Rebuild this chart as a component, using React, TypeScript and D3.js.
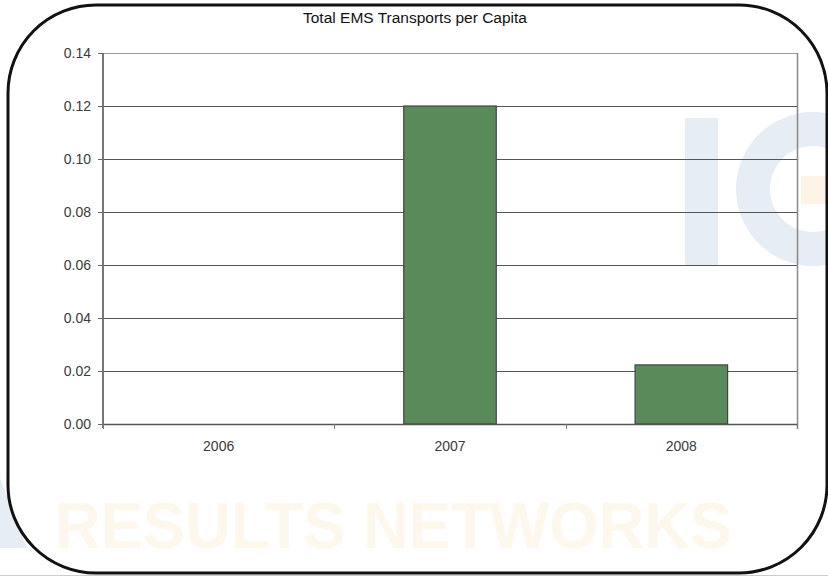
import React, { useEffect, useRef } from 'react';
import * as d3 from 'd3';

const years = ['2006', '2007', '2008'];
const transportsPerCapita = [0, 0.12, 0.0223];
const yTicks = [0, 0.02, 0.04, 0.06, 0.08, 0.1, 0.12, 0.14];
const chartTitle = 'Total EMS Transports per Capita';
const watermarkText = 'RESULTS NETWORKS';

const width = 828;
const height = 576;
const margin = { top: 53, right: 31, bottom: 152, left: 103 };

export default function App() {
	const ref = useRef<SVGSVGElement | null>(null);

	useEffect(() => {
		const svg = d3.select(ref.current);
		svg.selectAll('*').remove();
		svg.style('font-family', '"Liberation Sans", Arial, sans-serif');

		// background + faint watermark
		svg.append('rect').attr('width', width).attr('height', height).attr('fill', '#fff');
		const wm = svg.append('g');
		wm.append('rect').attr('x', 685).attr('y', 118).attr('width', 33).attr('height', 147).attr('fill', '#e7edf5');
		const arc = d3.arc()({ innerRadius: 43, outerRadius: 77, startAngle: 0.3, endAngle: Math.PI * 2 - 0.3 } as any);
		wm.append('path').attr('d', arc).attr('transform', 'translate(813,189) rotate(90)').attr('fill', '#e7edf5');
		wm.append('rect').attr('x', 801).attr('y', 176).attr('width', 27).attr('height', 28).attr('fill', '#fdf4e7');
		wm.append('path').attr('d', 'M0,478 L27,548 L0,548 Z').attr('fill', '#e7edf5');
		wm.append('text')
			.attr('x', 55)
			.attr('y', 548)
			.attr('font-size', 64)
			.attr('font-weight', 'bold')
			.attr('textLength', 677)
			.attr('lengthAdjust', 'spacingAndGlyphs')
			.attr('fill', '#fef7ec')
			.text(watermarkText);

		// rounded frame
		svg.append('rect')
			.attr('x', 8)
			.attr('y', 5)
			.attr('width', 819)
			.attr('height', 568)
			.attr('rx', 88)
			.attr('fill', 'none')
			.attr('stroke', '#111')
			.attr('stroke-width', 3);
		svg.append('line').attr('x1', 0).attr('x2', width).attr('y1', 575.5).attr('y2', 575.5).attr('stroke', '#ccc');

		svg.append('text')
			.attr('x', 415)
			.attr('y', 23)
			.attr('text-anchor', 'middle')
			.attr('font-size', 15.5)
			.attr('fill', '#111')
			.text(chartTitle);

		const x0 = margin.left;
		const y0 = height - margin.bottom;
		const yScale = d3.scaleLinear().domain([0, 0.14]).range([y0, margin.top]);
		const xScale = d3.scaleBand().domain(years).range([x0, 797]).paddingInner(0.6).paddingOuter(0.3);

		// gridlines
		svg.append('g')
			.selectAll('line')
			.data(yTicks.filter(d => d > 0))
			.enter()
			.append('line')
			.attr('x1', x0)
			.attr('x2', 797)
			.attr('y1', d => Math.round(yScale(d)) + 0.5)
			.attr('y2', d => Math.round(yScale(d)) + 0.5)
			.attr('stroke', d => (d === 0.14 ? '#9a9a9a' : '#555'))
			.attr('stroke-width', 1);
		svg.append('line')
			.attr('x1', 797.5)
			.attr('x2', 797.5)
			.attr('y1', yScale(0.14))
			.attr('y2', y0 + 5)
			.attr('stroke', '#888')
			.attr('stroke-width', 1.5);

		// bars
		svg.append('g')
			.selectAll('rect')
			.data(years.map((y, i) => ({ year: y, value: transportsPerCapita[i] })).filter(d => d.value > 0))
			.enter()
			.append('rect')
			.attr('x', d => xScale(d.year) as number)
			.attr('y', d => yScale(d.value))
			.attr('width', xScale.bandwidth())
			.attr('height', d => y0 - yScale(d.value))
			.attr('fill', '#5a8a5a')
			.attr('stroke', '#444')
			.attr('stroke-width', 1.2);

		// y axis
		const yAxis = svg.append('g').attr('transform', `translate(${x0},0)`);
		yAxis.append('line').attr('x1', 0).attr('x2', 0).attr('y1', yScale(0.14)).attr('y2', y0 + 4).attr('stroke', '#777').attr('stroke-width', 2);
		yAxis.selectAll('.tick')
			.data(yTicks)
			.enter()
			.append('line')
			.attr('x1', -5)
			.attr('x2', 0)
			.attr('y1', d => Math.round(yScale(d)) + 0.5)
			.attr('y2', d => Math.round(yScale(d)) + 0.5)
			.attr('stroke', '#666');
		yAxis.selectAll('text')
			.data(yTicks)
			.enter()
			.append('text')
			.attr('x', -12)
			.attr('y', d => yScale(d) + 5)
			.attr('text-anchor', 'end')
			.attr('font-size', 14)
			.attr('fill', '#3a3a3a')
			.text(d => d3.format('.2f')(d));

		// x axis
		const xAxis = svg.append('g');
		xAxis.append('line').attr('x1', x0).attr('x2', 797).attr('y1', y0 + 0.5).attr('y2', y0 + 0.5).attr('stroke', '#555').attr('stroke-width', 1.5);
		const boundaries = [x0, ...years.map(y => (xScale(y) as number) + xScale.bandwidth() + (xScale.step() * xScale.paddingInner()) / 2)];
		xAxis.selectAll('.tick')
			.data(boundaries)
			.enter()
			.append('line')
			.attr('x1', d => Math.round(d) + 0.5)
			.attr('x2', d => Math.round(d) + 0.5)
			.attr('y1', y0)
			.attr('y2', y0 + 5)
			.attr('stroke', '#777');
		xAxis.selectAll('text')
			.data(years)
			.enter()
			.append('text')
			.attr('x', d => (xScale(d) as number) + xScale.bandwidth() / 2)
			.attr('y', y0 + 27)
			.attr('text-anchor', 'middle')
			.attr('font-size', 14)
			.attr('fill', '#3a3a3a')
			.text(d => d);
	}, []);

	return (
		<div style={{ position: 'absolute', left: 0, top: 0 }}>
			<svg ref={ref} width={width} height={height} style={{ display: 'block' }} />
		</div>
	);
}
